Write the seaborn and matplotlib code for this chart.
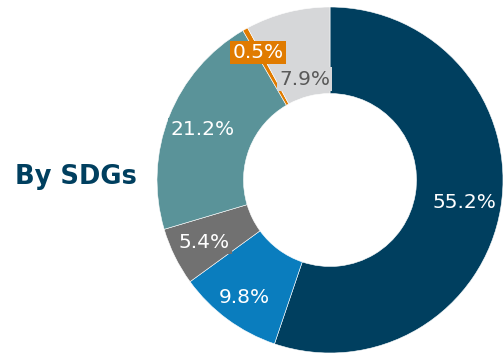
import numpy as np
import matplotlib
matplotlib.use("Agg")
import matplotlib.pyplot as plt
import seaborn as sns

categories = ["SDG A", "SDG B", "SDG C", "SDG D", "SDG E", "SDG F"]
values = [55.2, 9.8, 5.4, 21.2, 0.5, 7.9]
labels = ["55.2%", "9.8%", "5.4%", "21.2%", "0.5%", "7.9%"]
title = "By SDGs"

colors = ["#003f5f", "#0a7dbe", "#717171", "#5a9399", "#e07b00", "#d6d7d9"]
text_colors = ["white", "white", "white", "white", "white", "#595959"]
label_r = [0.79, 0.84, 0.81, 0.79, 0.845, 0.60]

sns.set_theme(style="white")
plt.rcParams['font.family'] = ['DejaVu Sans']

fig = plt.figure(figsize=(5.03, 3.54), dpi=100)
ax = fig.add_axes([157/503, 1/354, 346/503, 346/354])

wedges, _ = ax.pie(values, colors=colors, startangle=90, counterclock=False,
                   radius=1.0, wedgeprops=dict(width=0.5, edgecolor="white", linewidth=0.4))
ax.set_xlim(-1, 1)
ax.set_ylim(-1, 1)
ax.set_aspect("equal")
ax.axis("off")

total = sum(values)
start = 90.0
for v, lab, c, tc, r in zip(values, labels, colors, text_colors, label_r):
    sweep = v / total * 360
    mid = np.deg2rad(start - sweep / 2)
    start -= sweep
    ax.text(r * np.cos(mid), r * np.sin(mid), lab, ha="center", va="center",
            fontsize=14.5, color=tc,
            bbox=dict(boxstyle="square,pad=0.12", facecolor=c, edgecolor="none"))

fig.text(15/503, 1 - 177/354, title, ha="left", va="center", fontsize=18.5,
         fontweight="bold", color="#003f5f")

fig.savefig("out.png", dpi=100)
